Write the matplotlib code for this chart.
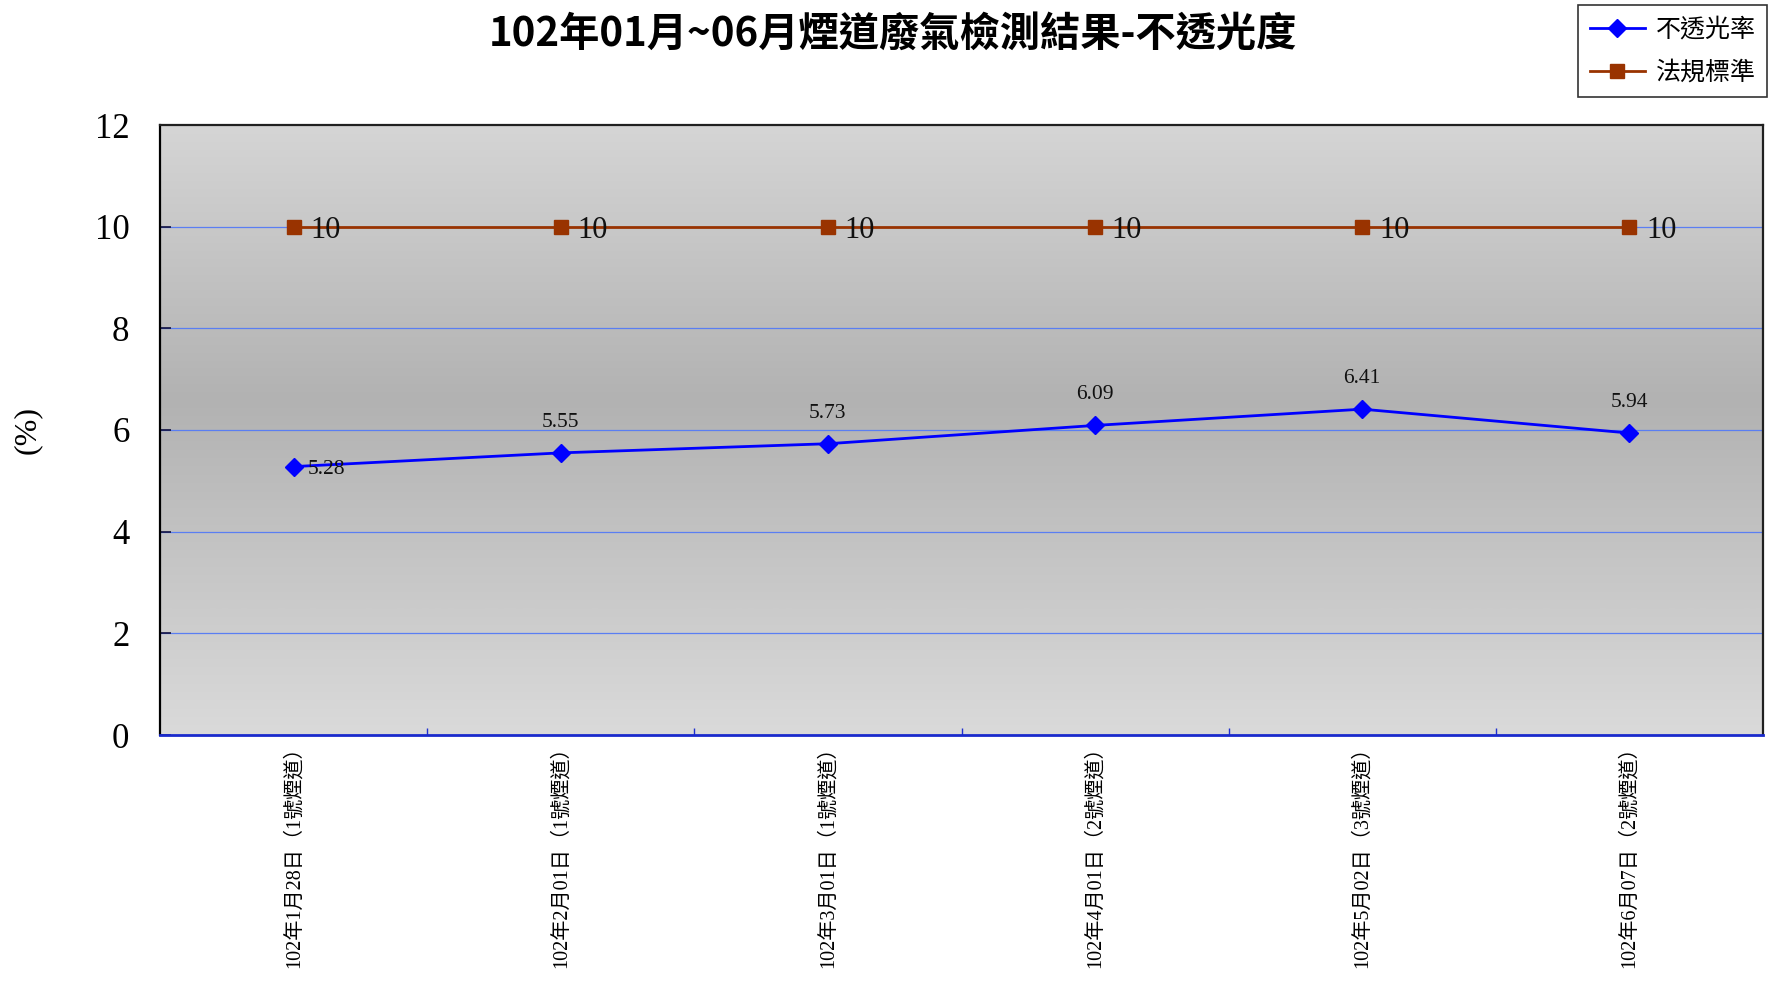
import numpy as np
import matplotlib
matplotlib.use("Agg")
import matplotlib.pyplot as plt
from matplotlib.colors import LinearSegmentedColormap

# ---- data ----
title = "102年01月~06月煙道廢氣檢測結果-不透光度"
categories = ['102年1月28日（1號煙道）', '102年2月01日（1號煙道）', '102年3月01日（1號煙道）',
              '102年4月01日（2號煙道）', '102年5月02日（3號煙道）', '102年6月07日（2號煙道）']
opacity = [5.28, 5.55, 5.73, 6.09, 6.41, 5.94]
standard = [10, 10, 10, 10, 10, 10]
series_names = ['不透光率', '法規標準']
y_ticks = [0, 2, 4, 6, 8, 10, 12]
y_label = '(%)'

SERIF = ['Liberation Serif', 'Noto Sans CJK TC', 'DejaVu Sans']
CJK = ['Noto Sans CJK TC', 'DejaVu Sans']
plt.rcParams['font.family'] = SERIF

W, H = 1769, 990
fig = plt.figure(figsize=(W / 100, H / 100), dpi=100)
fig.patch.set_facecolor('white')
ax = fig.add_axes([160 / W, 1 - 735 / H, 1603 / W, 610 / H])

n = len(categories)
xs = np.arange(n) + 0.5

# background gradient
cmap = LinearSegmentedColormap.from_list(
    'bg', [(0.0, '#dadada'), (0.55, '#b2b2b2'), (1.0, '#d5d5d5')])
grad = np.linspace(0, 1, 256).reshape(-1, 1)
ax.imshow(grad, cmap=cmap, aspect='auto', extent=[0, n, 12, 0],
          zorder=0, interpolation='bicubic', transform=ax.transData)
ax.set_xlim(0, n)
ax.set_ylim(0, 12)

# grid lines
for yv in y_ticks[1:-1]:
    ax.axhline(yv, color='#5a7ef2', lw=0.9, zorder=1)

l1, = ax.plot(xs, opacity, color='#0000ff', lw=2.0, marker='D', markersize=9,
              markeredgecolor='#0000ff', markerfacecolor='#0000ff', zorder=3,
              label=series_names[0])
l2, = ax.plot(xs, standard, color='#993300', lw=2.0, marker='s', markersize=10,
              markeredgecolor='#993300', markerfacecolor='#993300', zorder=3,
              label=series_names[1])

# data labels
for i, (x, v) in enumerate(zip(xs, standard)):
    ax.annotate(f'{v:g}', (x, v), xytext=(12, -2.5), textcoords='offset points',
                ha='left', va='center', fontsize=22, family=SERIF, color='#111111', zorder=4)
for i, (x, v) in enumerate(zip(xs, opacity)):
    if i == 0:
        ax.annotate(f'{v:.2f}', (x, v), xytext=(10, -2), textcoords='offset points',
                    ha='left', va='center', fontsize=15.5, family=SERIF, color='#111111', zorder=4)
    else:
        ax.annotate(f'{v:.2f}', (x, v), xytext=(0, 22), textcoords='offset points',
                    ha='center', va='center', fontsize=15.5, family=SERIF, color='#111111', zorder=4)

# axes ticks
ax.set_yticks(y_ticks)
ax.set_yticklabels([str(t) for t in y_ticks], fontsize=25, family=SERIF)
ax.tick_params(axis='y', direction='in', length=8, width=1.2, color='#101040', pad=22)

ax.set_xticks(np.arange(1, n))
ax.set_xticklabels([])
ax.tick_params(axis='x', which='major', direction='in', length=5, width=1, color='#2030d0')
ax.set_xticks(xs, minor=True)
ax.set_xticklabels(categories, minor=True, rotation=90, ha='center', va='top',
                   fontsize=14.5, family=SERIF)
ax.tick_params(axis='x', which='minor', length=0, pad=1)

for s in ['left']:
    ax.spines[s].set_color('black'); ax.spines[s].set_linewidth(1.6)
for s in ['top', 'right']:
    ax.spines[s].set_color('#202020'); ax.spines[s].set_linewidth(1.6)
ax.spines['bottom'].set_color('#1a2acc'); ax.spines['bottom'].set_linewidth(2.0)

ax.set_ylabel(y_label, fontsize=23, family=SERIF)
ax.yaxis.set_label_coords(-118 / 1603, 0.5)

fig.text(893 / W, 1 - 34 / H, title, ha='center', va='center', fontsize=29,
         family=CJK, fontweight='bold')

leg = fig.legend(handles=[l1, l2], loc='upper right',
                 bbox_to_anchor=(1767 / W, 1 - 5 / H), prop={'family': CJK, 'size': 18},
                 frameon=True, fancybox=False, edgecolor='black', borderaxespad=0,
                 handlelength=2.2, labelspacing=0.7, borderpad=0.45, handletextpad=0.45)
leg.get_frame().set_linewidth(1.2)

fig.savefig('out.png', dpi=100)
